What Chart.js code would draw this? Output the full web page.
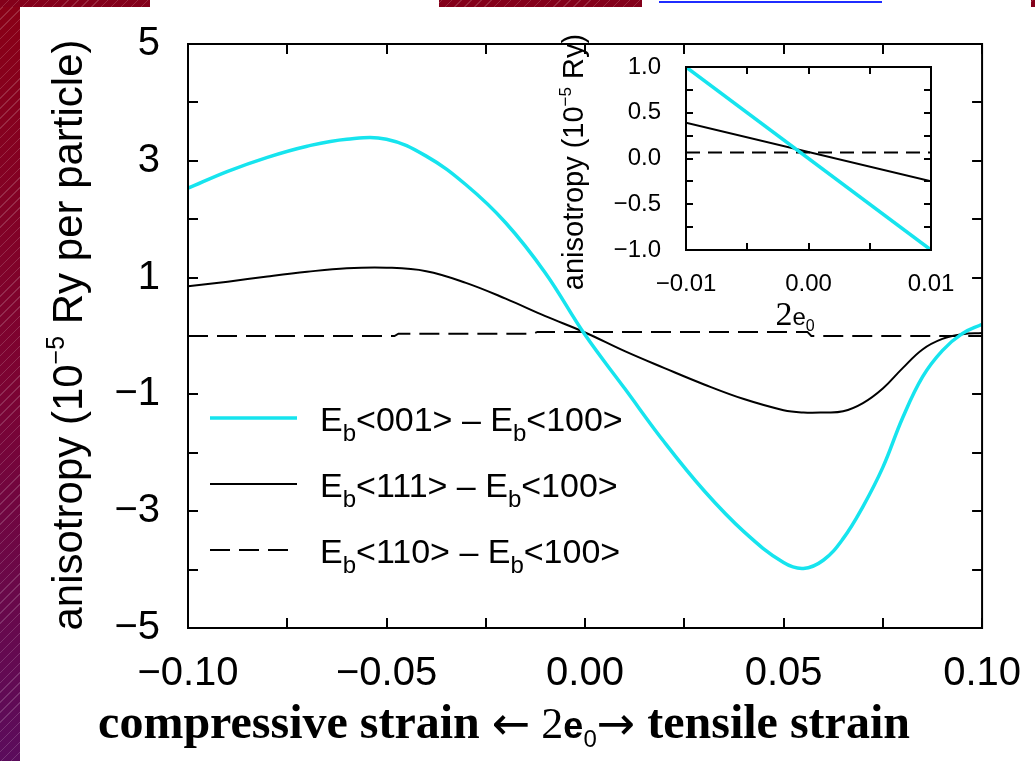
<!DOCTYPE html>
<html>
<head>
<meta charset="utf-8">
<script src="https://cdn.jsdelivr.net/npm/chart.js@4.4.1/dist/chart.umd.min.js"></script>
<style>
  html, body { margin: 0; padding: 0; }
  body { width: 1035px; height: 761px; position: relative; overflow: hidden; background: #fff; }
  .maroon {
    position: absolute;
    background: repeating-linear-gradient(-45deg, rgba(255,255,255,0) 0 6px, rgba(255,255,255,0.16) 6px 7px), #84001a;
  }
  #strip {
    position: absolute; left: 0; top: 0; width: 20px; height: 761px;
    background: repeating-linear-gradient(-45deg, rgba(255,255,255,0) 0 6px, rgba(255,255,255,0.16) 6px 7px),
                linear-gradient(#8a0016, #7c0332 50%, #5b0c5c);
  }
  #blue { position: absolute; left: 659px; top: 1px; width: 223px; height: 2px; background: #1f2cff; }
  #main { position: absolute; left: 0; top: 0; }
  #inset { position: absolute; left: 540px; top: 20px; }
</style>
</head>
<body>
<div id="strip"></div>
<div class="maroon" style="left:0;top:0;width:150px;height:7px"></div>
<div class="maroon" style="left:439px;top:0;width:203px;height:7px"></div>
<div class="maroon" style="left:1031px;top:0;width:4px;height:7px"></div>
<div id="blue"></div>
<canvas id="main" width="1035" height="761"></canvas>
<canvas id="inset" width="430" height="320"></canvas>
<script>
// strain 2e0 and anisotropy (10^-5 Ry per particle)
const strain = [-0.10, -0.09, -0.08, -0.07, -0.06, -0.05, -0.04, -0.03, -0.02, -0.01, 0.00,
                0.01, 0.02, 0.03, 0.04, 0.05, 0.055, 0.06, 0.065, 0.07, 0.075, 0.08, 0.085, 0.09, 0.095, 0.10];
const aniso001 = [2.53, 2.82, 3.06, 3.25, 3.37, 3.37, 3.08, 2.59, 1.94, 1.08, 0.02,
                  -0.90, -1.82, -2.65, -3.35, -3.88, -3.98, -3.84, -3.47, -2.92, -2.25, -1.40, -0.70, -0.25, 0.04, 0.20];
const aniso111 = [0.85, 0.93, 1.02, 1.10, 1.16, 1.17, 1.11, 0.91, 0.64, 0.34, 0.06,
                  -0.26, -0.55, -0.83, -1.08, -1.27, -1.31, -1.31, -1.29, -1.15, -0.90, -0.55, -0.23, -0.05, 0.03, 0.05];
const dashStrain = [-0.10, -0.048, -0.047, -0.013, -0.012, 0.056, 0.057, 0.10];
const aniso110 = [0.0, 0.0, 0.04, 0.04, 0.07, 0.07, 0.0, 0.0];

// inset: small strain range
const insetStrain = [-0.01, 0.01];
const inset001 = [1.0, -1.0];
const inset111 = [0.39, -0.25];
const inset110 = [0.065, 0.065];

const seriesNames = ['E_{b}<001> \u2013 E_{b}<100>', 'E_{b}<111> \u2013 E_{b}<100>', 'E_{b}<110> \u2013 E_{b}<100>'];
const xTitle = ['compressive strain ', '\u2190', ' 2', 'e', '0', '\u2192', ' tensile strain'];
const yTitle = 'anisotropy (10^{\u22125} Ry per particle)';
const insetYTitle = 'anisotropy (10^{\u22125} Ry)';

const CYAN = 'rgb(22,228,238)';
const SANS = '"Liberation Sans", Arial, sans-serif';
const SERIF = '"Liberation Serif", "Times New Roman", serif';

const pairs = (xs, ys) => xs.map((x, i) => ({ x: x, y: ys[i] }));
const fmt = (v, d) => (v < -1e-9 ? '\u2212' : '') + Math.abs(v).toFixed(d);

// split "E_{b}<001>" style strings into runs with sub/superscripts
function runs(str, size) {
  const out = [];
  str.split(/(_\{[^}]*\}|\^\{[^}]*\})/).forEach(p => {
    if (!p) return;
    if (p[0] === '_') out.push({ t: p.slice(2, -1), f: Math.round(size * 0.7) + 'px ' + SANS, dy: size * 0.28 });
    else if (p[0] === '^') out.push({ t: p.slice(2, -1), f: Math.round(size * 0.6) + 'px ' + SANS, dy: -size * 0.42 });
    else out.push({ t: p, f: size + 'px ' + SANS, dy: 0 });
  });
  return out;
}
function drawRuns(ctx, parts, x, y, align) {
  ctx.textAlign = 'left';
  ctx.textBaseline = 'alphabetic';
  let w = 0;
  parts.forEach(p => { ctx.font = p.f; w += ctx.measureText(p.t).width; });
  let cx = align === 'center' ? x - w / 2 : x;
  parts.forEach(p => {
    ctx.font = p.f;
    ctx.fillText(p.t, cx, y + (p.dy || 0));
    cx += ctx.measureText(p.t).width;
  });
}

// frame + inward ticks on all four sides, from the scales' own ticks
function frameTicks(len, lw) {
  return {
    id: 'frameTicks',
    afterDatasetsDraw(chart) {
      const { ctx, chartArea: a, scales } = chart;
      ctx.save();
      ctx.strokeStyle = '#000';
      ctx.lineWidth = lw;
      ctx.beginPath();
      scales.x.ticks.forEach(t => {
        const px = Math.round(scales.x.getPixelForValue(t.value));
        ctx.moveTo(px, a.bottom); ctx.lineTo(px, a.bottom - len);
        ctx.moveTo(px, a.top); ctx.lineTo(px, a.top + len);
      });
      scales.y.ticks.forEach(t => {
        const py = Math.round(scales.y.getPixelForValue(t.value));
        ctx.moveTo(a.left, py); ctx.lineTo(a.left + len, py);
        ctx.moveTo(a.right, py); ctx.lineTo(a.right - len, py);
      });
      ctx.stroke();
      ctx.strokeRect(a.left, a.top, a.right - a.left, a.bottom - a.top);
      ctx.restore();
    }
  };
}

const mainDecor = {
  id: 'mainDecor',
  afterDraw(chart) {
    const ctx = chart.ctx;
    ctx.save();
    ctx.fillStyle = '#000';
    // legend
    chart.data.datasets.forEach((ds, i) => {
      const y = 418 + i * 66;
      ctx.strokeStyle = ds.borderColor;
      ctx.lineWidth = ds.borderWidth;
      ctx.setLineDash(ds.borderDash || []);
      ctx.beginPath(); ctx.moveTo(210, y); ctx.lineTo(297, y); ctx.stroke();
      ctx.setLineDash([]);
      drawRuns(ctx, runs(ds.label, 34), 320, y + 13, 'left');
    });
    // y title
    ctx.save();
    ctx.translate(82, 335);
    ctx.rotate(-Math.PI / 2);
    drawRuns(ctx, runs(yTitle, 42), 0, 0, 'center');
    ctx.restore();
    // x title
    drawRuns(ctx, [
      { t: xTitle[0], f: 'bold 48px ' + SERIF },
      { t: xTitle[1], f: '46px "DejaVu Sans", sans-serif', dy: 1 },
      { t: xTitle[2], f: '44px ' + SERIF },
      { t: xTitle[3], f: 'bold 36px ' + SANS },
      { t: xTitle[4], f: '24px ' + SANS, dy: 9 },
      { t: xTitle[5], f: '46px "DejaVu Sans", sans-serif', dy: 1 },
      { t: xTitle[6], f: 'bold 48px ' + SERIF }
    ], 504, 738, 'center');
    ctx.restore();
  }
};

new Chart(document.getElementById('main'), {
  type: 'line',
  data: {
    datasets: [
      { label: seriesNames[0], data: pairs(strain, aniso001), borderColor: CYAN, borderWidth: 3.5,
        pointRadius: 0, tension: 0.4 },
      { label: seriesNames[1], data: pairs(strain, aniso111), borderColor: '#000', borderWidth: 2,
        pointRadius: 0, tension: 0.4 },
      { label: seriesNames[2], data: pairs(dashStrain, aniso110), borderColor: '#000', borderWidth: 2,
        borderDash: [20, 9], pointRadius: 0, tension: 0 }
    ]
  },
  options: {
    responsive: false,
    animation: false,
    layout: { padding: { left: 0, top: 42, right: 47, bottom: 0 } },
    plugins: { legend: { display: false }, tooltip: { enabled: false } },
    scales: {
      x: {
        type: 'linear', min: -0.1, max: 0.1,
        grid: { display: false }, border: { display: false },
        afterFit: s => { s.height = 133; },
        ticks: {
          stepSize: 0.025, autoSkip: false, maxRotation: 0, padding: 14, color: '#000',
          font: { family: SANS, size: 40 },
          callback: v => Math.abs(Math.round(v * 1000)) % 50 === 0 ? fmt(v, 2) : ''
        }
      },
      y: {
        min: -5, max: 5,
        grid: { display: false }, border: { display: false },
        afterFit: s => { s.width = 188; },
        ticks: {
          stepSize: 1, autoSkip: false, padding: 20, color: '#000',
          font: { family: SANS, size: 40 },
          callback: v => Math.abs(Math.round(v)) % 2 === 1 ? fmt(v, 0) : ''
        }
      }
    }
  },
  plugins: [frameTicks(10, 2), mainDecor]
});

const insetDecor = {
  id: 'insetDecor',
  afterDraw(chart) {
    const ctx = chart.ctx;
    ctx.save();
    ctx.fillStyle = '#000';
    ctx.translate(43, 142);
    ctx.rotate(-Math.PI / 2);
    drawRuns(ctx, runs(insetYTitle, 29), 0, 0, 'center');
    ctx.restore();
    ctx.save();
    ctx.fillStyle = '#000';
    drawRuns(ctx, [
      { t: '2', f: '34px ' + SERIF },
      { t: 'e', f: '24px ' + SANS },
      { t: '0', f: '16px ' + SANS, dy: 6 }
    ], 255, 305, 'center');
    ctx.restore();
  }
};

new Chart(document.getElementById('inset'), {
  type: 'line',
  data: {
    datasets: [
      { data: pairs(insetStrain, inset001), borderColor: CYAN, borderWidth: 3.5, pointRadius: 0 },
      { data: pairs(insetStrain, inset111), borderColor: '#000', borderWidth: 2, pointRadius: 0 },
      { data: pairs(insetStrain, inset110), borderColor: '#000', borderWidth: 2, borderDash: [14, 8], pointRadius: 0 }
    ]
  },
  options: {
    responsive: false,
    animation: false,
    layout: { padding: { left: 0, top: 47, right: 39, bottom: 0 } },
    plugins: { legend: { display: false }, tooltip: { enabled: false } },
    scales: {
      x: {
        type: 'linear', min: -0.01, max: 0.01,
        grid: { display: false }, border: { display: false },
        afterFit: s => { s.height = 90; },
        ticks: {
          stepSize: 0.005, autoSkip: false, maxRotation: 0, padding: 12, color: '#000',
          font: { family: SANS, size: 24 },
          callback: v => Math.abs(Math.round(v * 10000)) % 100 === 0 ? fmt(v, 2) : ''
        }
      },
      y: {
        min: -1, max: 1,
        grid: { display: false }, border: { display: false },
        afterFit: s => { s.width = 146; },
        ticks: {
          stepSize: 0.25, autoSkip: false, padding: 17, color: '#000',
          font: { family: SANS, size: 24 },
          callback: v => Math.abs(Math.round(v * 100)) % 50 === 0 ? fmt(v, 1) : ''
        }
      }
    }
  },
  plugins: [frameTicks(7, 2), insetDecor]
});
</script>
</body>
</html>
